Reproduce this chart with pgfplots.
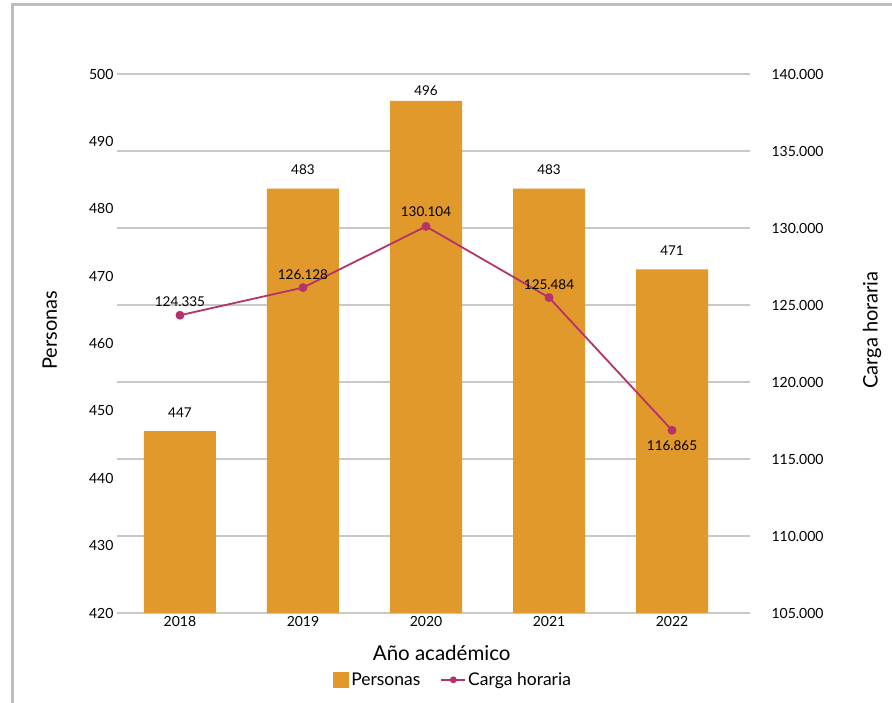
\documentclass[border=0pt]{standalone}
\usepackage{pgfplots}
\pgfplotsset{compat=1.18}
\usepackage{fontspec}
\setmainfont{Lato}
\definecolor{barc}{HTML}{E0992A}
\definecolor{linec}{HTML}{B5336A}
\definecolor{gridc}{HTML}{C8C8C8}
\definecolor{framec}{HTML}{BDBDBD}
\pgfplotsset{
  common/.style={
    at={(117pt,90pt)}, anchor=south west,
    scale only axis, width=633pt, height=539pt,
    xmin=-0.512, xmax=4.634,
    axis line style={draw=none},
    major tick length=0pt, tick style={draw=none},
    /pgf/number format/assume math mode=true,
    label style={font=\fontsize{20}{20}\selectfont},
  },
  rightscale/.style={
    ymin=105000, ymax=140000, ytick={105000,110000,...,140000},
    scaled y ticks=false,
    /pgf/number format/fixed, /pgf/number format/1000 sep={.},
  },
}
\begin{document}
\begin{tikzpicture}[x=1pt,y=1pt]
\path[use as bounding box] (0,0) rectangle (892,703);
\draw[framec, line width=3pt] (12,-10) -- (12,698) -- (905,698);
% right axis with grid
\begin{axis}[common, rightscale,
  axis y line*=right, hide x axis,
  ymajorgrids, grid style={gridc, line width=1.6pt},
  yticklabel style={font=\fontsize{14}{14}\selectfont, xshift=18pt},
  ylabel={Carga horaria},
  ylabel style={at={(axis description cs:1.193,0.525)}, anchor=center},
]
\addplot[draw=none] coordinates {(0,120000)};
\end{axis}
% bars, left axis
\begin{axis}[common,
  ybar=0pt, bar width=72pt,
  ymin=420, ymax=500, ytick={420,430,...,500},
  xtick={0,1,2,3,4},
  xticklabels={2018,2019,2020,2021,2022},
  axis y line*=left, axis x line*=bottom,
  tick label style={font=\fontsize{14}{14}\selectfont},
  ylabel={Personas}, xlabel={Año académico},
  xlabel style={font=\fontsize{20.5}{20.5}\selectfont, at={(axis description cs:0.513,-0.074)}, anchor=center},
  ylabel style={at={(axis description cs:-0.106,0.525)}, anchor=center},
  nodes near coords, point meta=explicit,
  visualization depends on={\thisrow{dy} \as \lbldy},
  every node near coord/.append style={font=\fontsize{13.5}{13.5}\selectfont, black, yshift=\lbldy},
  legend style={at={(0.531,-0.124)}, anchor=center, legend columns=2, draw=none, font=\fontsize{17.5}{17.5}\selectfont, /tikz/every even column/.append style={column sep=18pt}},
]
\addplot[fill=barc, draw=none,
  legend image code/.code={\fill[barc] (0pt,-8pt) rectangle (16pt,8pt);}] table[x=x, y=y, meta=y] {
x y dy
0 447 10
1 483 10
2 496 2
3 483 10
4 471 10
};
\addlegendentry{Personas}
\addlegendimage{legend image code/.code={\draw[linec, line width=1.8pt] (0pt,0pt) -- (24pt,0pt); \fill[linec] (12pt,0pt) circle (3.2pt);}}
\addlegendentry{Carga horaria}
\end{axis}
% line, right scale
\begin{axis}[common, rightscale, hide axis]
\addplot[linec, line width=1.8pt, mark=*, mark size=3.5pt, mark options={fill=linec, draw=linec},
  nodes near coords, point meta=explicit,
  nodes near coords style={font=\fontsize{13.5}{13.5}\selectfont, black},
  visualization depends on={value \thisrow{pos} \as \lblpos},
  visualization depends on={\thisrow{dy} \as \lbldy},
  every node near coord/.append style={anchor=\lblpos, yshift=\lbldy},
] table[x=x, y=y, meta=y] {
x y pos dy
0 124335 south 4
1 126128 south 4
2 130104 south 6
3 125484 south 4
4 116865 north -6
};
\end{axis}
\end{tikzpicture}
\end{document}
